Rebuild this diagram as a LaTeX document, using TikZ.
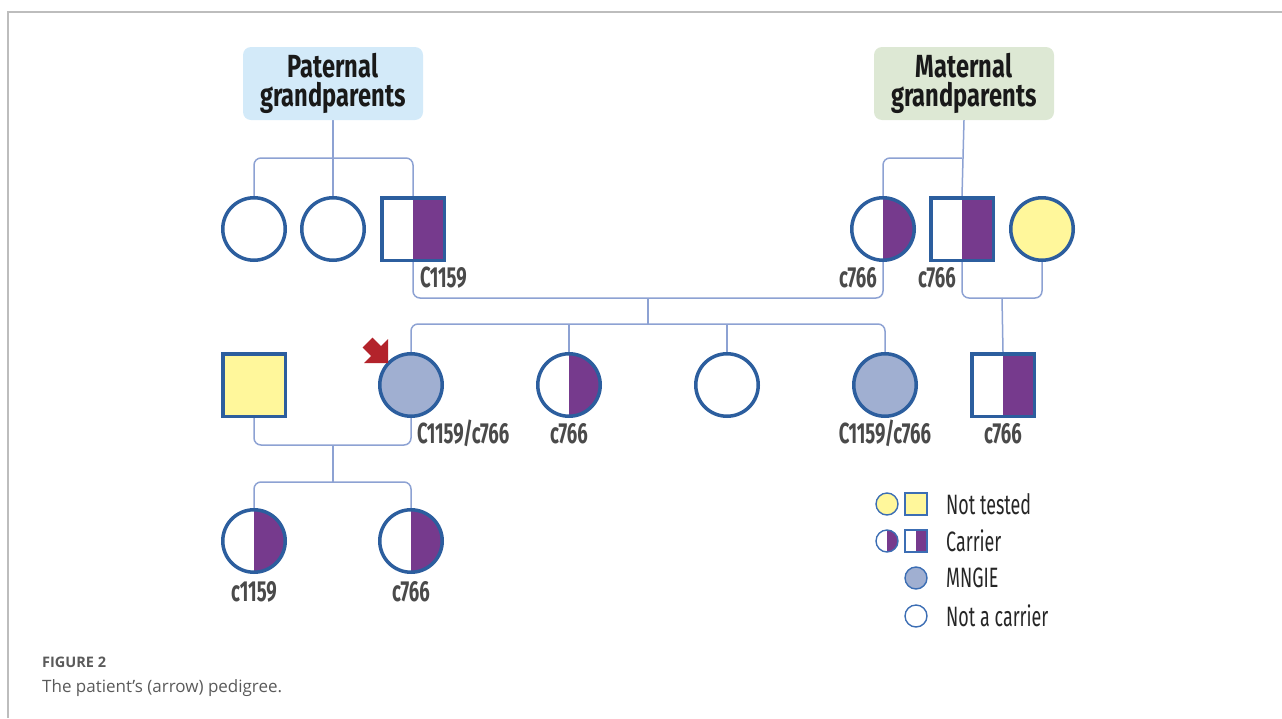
\documentclass[tikz,border=0pt]{standalone}
\usepackage{fontspec}
\setmainfont{Open Sans}
\newfontfamily\titlefont[FakeStretch=0.74]{Fira Sans}
\newfontfamily\condfont[FakeStretch=0.64]{Fira Sans}
\definecolor{connc}{HTML}{8DA2D3}
\definecolor{symb}{HTML}{2C5E9E}
\definecolor{symbl}{HTML}{3C6EB4}
\definecolor{purp}{HTML}{763A8D}
\definecolor{mng}{HTML}{A0AFD1}
\definecolor{yel}{HTML}{FFF79B}
\definecolor{pboxc}{HTML}{D3EAF9}
\definecolor{mboxc}{HTML}{DDE8D4}
\definecolor{arr}{HTML}{B3232B}
\definecolor{framec}{HTML}{BDBDBD}
\definecolor{lbl}{HTML}{4A4A4A}
\definecolor{capc}{HTML}{5A5A5A}
\pgfdeclarelayer{bg}
\pgfsetlayers{bg,main}
\begin{document}
\begin{tikzpicture}[x=1pt,y=-1pt,
  ind/.style={draw=symb, line width=3.5pt, inner sep=0pt, minimum size=62.5pt, fill=white},
  fem/.style={ind, circle},
  mal/.style={ind, rectangle},
  carrier/.style={path picture={\fill[purp] (path picture bounding box.north) rectangle (path picture bounding box.south east);}},
  nottested/.style={fill=yel},
  affected/.style={fill=mng},
  lind/.style={draw=symbl, line width=1.4pt, inner sep=0pt, minimum size=22pt, fill=white},
  conn/.style={draw=connc, line width=1.5pt, rounded corners=7pt},
  lab/.style={font=\condfont\bfseries\fontsize{29}{29}\selectfont, text=lbl, inner sep=0pt},
  legtext/.style={font=\condfont\fontsize{28}{28}\selectfont, text=black!85, inner sep=0pt, anchor=west},
  gpbox/.style={rounded corners=8pt, minimum width=180pt, minimum height=73pt, inner sep=0pt, align=center,
     font=\titlefont\bfseries\fontsize{32}{29}\selectfont, text=black!90}
]
\useasboundingbox (0,0) rectangle (1282,718);
% frame
\draw[framec, line width=1.2pt] (8,718) -- (8,12) -- (1282,12);

% grandparent boxes
\node[gpbox, fill=pboxc] (pbox) at (333,83.5) {Paternal\\grandparents};
\node[gpbox, fill=mboxc] (mbox) at (964,83.5) {Maternal\\grandparents};

% generation II paternal
\node[fem] (pg1) at (254,229) {};
\node[fem] (pg2) at (333,229) {};
\node[mal, carrier] (pg3) at (413,229) {};
\node[lab, anchor=base west] (lpg3) at (420,287) {C1159};

% generation II maternal
\node[fem, carrier] (mg1) at (883,229) {};
\node[mal, carrier] (mg2) at (962,229) {};
\node[fem, nottested] (mg3) at (1042,229) {};
\node[lab, anchor=base east] (lmg1) at (877,287) {c766};
\node[lab, anchor=base east] (lmg2) at (956,287) {c766};

% generation III
\node[mal, nottested] (hus) at (254,385) {};
\node[fem, affected] (prob) at (411,385) {};
\node[fem, carrier] (s2) at (569,385) {};
\node[fem] (s3) at (727,385) {};
\node[fem, affected] (s4) at (885,385) {};
\node[mal, carrier] (cous) at (1003,385) {};
\node[lab, anchor=base west] (lprob) at (417,443) {C1159/c766};
\node[lab, anchor=base] (ls2) at (569,443) {c766};
\node[lab, anchor=base] (ls4) at (885,443) {C1159/c766};
\node[lab, anchor=base] (lcous) at (1003,443) {c766};

% generation IV
\node[fem, carrier] (d1) at (254,541) {};
\node[fem, carrier] (d2) at (411,541) {};
\node[lab, anchor=base] (ld1) at (254,601) {c1159};
\node[lab, anchor=base] (ld2) at (411,601) {c766};

% proband arrow
\fill[arr] (388,363) -- (388,339) -- (380.95,346.05) -- (372.45,337.55) -- (362.55,347.45) -- (371.05,355.95) -- (364,363) -- cycle;

% junction coordinates
\coordinate (pj) at (333,158);
\coordinate (mj) at (962,158);
\coordinate (mar1) at (648,298);
\coordinate (sib3) at (648,324);
\coordinate (mar2) at (1002,298);
\coordinate (mar3) at (333,445);
\coordinate (sib4) at (333,482);

\begin{pgfonlayer}{bg}
\draw[conn] (pbox.south) -- (pg2.north);
\draw[conn] (pg1.north) |- (pj) -| (pg3.north);
\draw[conn] (mbox.south) -- (mg2.north);
\draw[conn] (mg1.north) |- (mj);
\draw[conn] (pg3.south) |- (mar1) -| (mg1.south);
\draw[conn] (mar1) -- (sib3);
\draw[conn] (prob.north) |- (sib3) -| (s4.north);
\draw[conn] (s2.north) -- (s2.north |- sib3);
\draw[conn] (s3.north) -- (s3.north |- sib3);
\draw[conn] (mg2.south) |- (mar2) -| (mg3.south);
\draw[conn] (mar2) -- (cous.north);
\draw[conn] (hus.south) |- (mar3) -| (prob.south);
\draw[conn] (mar3) -- (sib4);
\draw[conn] (d1.north) |- (sib4) -| (d2.north);
\end{pgfonlayer}

% legend
\node[lind, circle, nottested] (lg1a) at (887,504) {};
\node[lind, rectangle, nottested] (lg1b) at (916,504) {};
\node[legtext] (lt1) at (946,504) {Not tested};
\node[lind, circle, carrier] (lg2a) at (887,541) {};
\node[lind, rectangle, carrier] (lg2b) at (916,541) {};
\node[legtext] (lt2) at (946,541) {Carrier};
\node[lind, circle, affected] (lg3) at (916,578) {};
\node[legtext] (lt3) at (946,578) {MNGIE};
\node[lind, circle] (lg4) at (916,616) {};
\node[legtext] (lt4) at (946,616) {Not a carrier};

% caption
\node[anchor=base west, inner sep=0pt, text=capc, font=\bfseries\fontsize{14.5}{14.5}\selectfont] (capt1) at (42,667) {FIGURE 2};
\node[anchor=base west, inner sep=0pt, text=capc, font=\fontsize{17}{17}\selectfont] (capt2) at (42,692) {The patient’s (arrow) pedigree.};
\end{tikzpicture}
\end{document}
